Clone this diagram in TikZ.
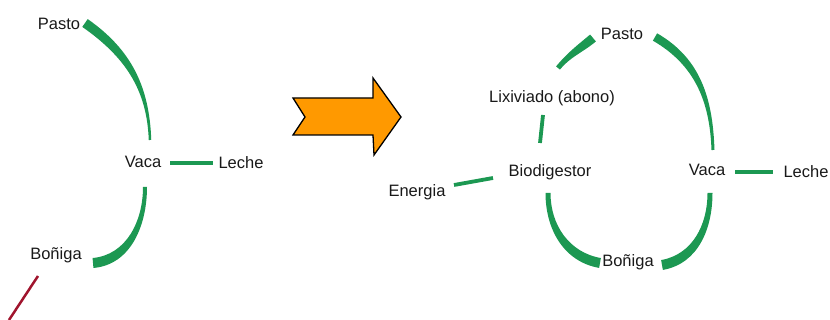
\documentclass[tikz,border=0pt]{standalone}
\usepackage{fontspec}
\setmainfont{Liberation Sans}
\begin{document}
\definecolor{leaf}{RGB}{28,152,82}
\definecolor{shiftorange}{RGB}{255,153,0}
\definecolor{wire}{RGB}{160,20,45}
\tikzset{
  label/.style={inner sep=0pt, text=black!90, font=\fontsize{16.5}{19}\selectfont},
  thinflow/.style={draw=leaf, line width=3.8pt},
  bigarrow/.style={fill=shiftorange, draw=black, line width=1.3pt, line join=miter},
}
% tapered brush stroke between two nodes:
% #1 start node, #2 offset from its centre, #3 end node, #4 offset from its centre,
% #5 out angle, #6 in angle, #7 width at start, #8 width at end
\newcommand\brush[8]{%
  \fill[leaf]
    ([shift={#2},shift={(#5+90:#7/2)}]#1.center) to[out=#5,in=#6]
    ([shift={#4},shift={(#6-90:#8/2)}]#3.center) --
    ([shift={#4},shift={(#6+90:#8/2)}]#3.center) to[out=#6,in=#5]
    ([shift={#2},shift={(#5-90:#7/2)}]#1.center) -- cycle;%
}
\begin{tikzpicture}[x=1pt,y=1pt]
\useasboundingbox (0,0) rectangle (830,320);

% ---- traditional cycle ----
\node[label] (pastoL) at (59,296) {Pasto};
\node[label] (vacaL)  at (143,158) {Vaca};
\node[label] (lecheL) at (241,157) {Leche};
\node[label] (bonL)   at (56,65)  {Boñiga};
\coordinate (lost) at (9,0);

\brush{pastoL}{(26,1)}{vacaL}{(7,22)}{-35}{92}{9.5}{2.5}
\brush{vacaL}{(2,-25)}{bonL}{(37,-8)}{-90}{5}{4}{10}
\draw[thinflow] ([shift={(27,-1)}]vacaL.center) -- ([shift={(-28,0)}]lecheL.center);
\draw[wire, line width=2.5pt] ([shift={(-18,-21)}]bonL.center) -- (lost);

% ---- transition arrow ----
\path[bigarrow] (293,222) -- (305,203) -- (293,185) -- (373,185) -- (374,165)
  -- (401,203) -- (373,242) -- (373,222) -- cycle;

% ---- closed cycle with biodigester ----
\node[label] (pastoR) at (622,286) {Pasto};
\node[label] (livR)   at (552,222) {Lixiviado (abono)};
\node[label] (bioR)   at (550,148) {Biodigestor};
\node[label] (eneR)   at (417,128) {Energia};
\node[label] (vacaR)  at (707,150) {Vaca};
\node[label] (lecheR) at (806,148) {Leche};
\node[label] (bonR)   at (628,58)  {Boñiga};

\brush{livR}{(6,30)}{pastoR}{(-29,-4)}{50}{-140}{5}{9}
\brush{pastoR}{(33,-3)}{vacaR}{(6,20)}{-30}{92}{8.5}{3}
\draw[thinflow] ([shift={(-10,29)}]bioR.center) -- ([shift={(-9,-17)}]livR.center);
\draw[thinflow] ([shift={(-57,-6)}]bioR.center) -- ([shift={(37,7)}]eneR.center);
\draw[thinflow] ([shift={(28,-2)}]vacaR.center) -- ([shift={(-33,0)}]lecheR.center);
\brush{vacaR}{(3,-23)}{bonR}{(34,-3)}{-90}{10}{5}{10}
\brush{bioR}{(-2,-21)}{bonR}{(-28,-1)}{-90}{170}{5}{10}
\end{tikzpicture}
\end{document}
